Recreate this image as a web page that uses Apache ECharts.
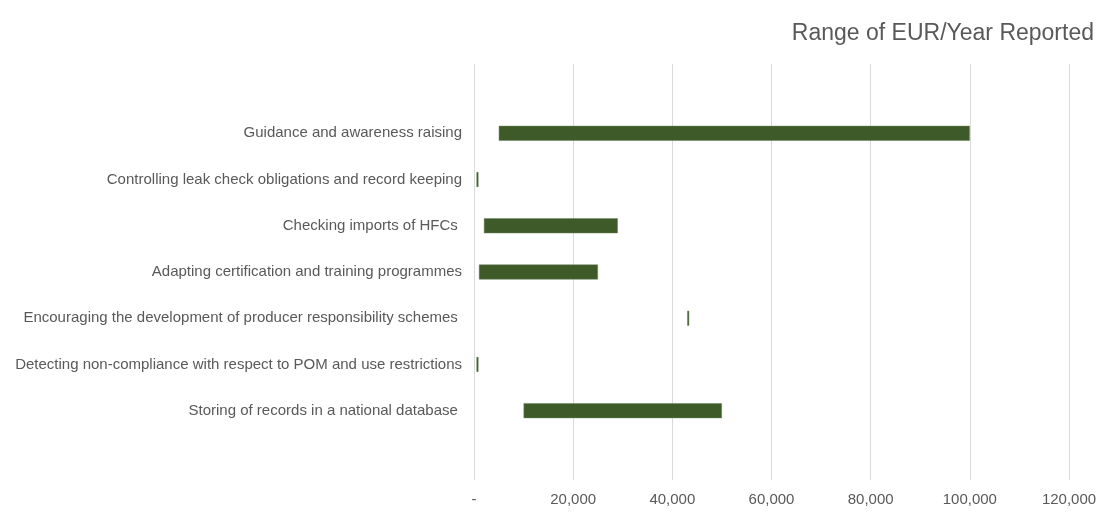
<!DOCTYPE html>
<html>
<head>
<meta charset="utf-8">
<script src="https://cdn.jsdelivr.net/npm/echarts@6/dist/echarts.min.js"></script>
<style>
  html, body { margin: 0; padding: 0; background: #fff; }
  #main { width: 1109px; height: 512px; }
</style>
</head>
<body>
<div id="main"></div>
<script>
// categories, top to bottom
var categories = [
    'Guidance and awareness raising',
    'Controlling leak check obligations and record keeping',
    'Checking imports of HFCs ',
    'Adapting certification and training programmes',
    'Encouraging the development of producer responsibility schemes ',
    'Detecting non-compliance with respect to POM and use restrictions',
    'Storing of records in a national database '
];
// lower and upper ends of the reported range (EUR/year)
var rangeLow = [5000, 500, 2000, 1000, 43000, 500, 10000];
var rangeHigh = [100000, 900, 29000, 25000, 43400, 900, 50000];

var xTicks = [0, 20000, 40000, 60000, 80000, 100000, 120000];

var myChart = echarts.init(document.getElementById('main'));

var spans = [];
for (var i = 0; i < rangeLow.length; i++) {
    spans.push(rangeHigh[i] - rangeLow[i]);
}

var option = {
    backgroundColor: '#fff',
    animation: false,
    textStyle: { fontFamily: 'Liberation Sans, Arial, sans-serif' },
    title: {
        text: 'Range of EUR/Year Reported',
        right: 10,
        top: 17,
        textStyle: {
            color: '#595959',
            fontSize: 23,
            fontWeight: 'normal',
            fontFamily: 'Liberation Sans, Arial, sans-serif'
        }
    },
    grid: {
        left: 474,
        right: 40,
        top: 64,
        bottom: 32,
        containLabel: false
    },
    xAxis: {
        type: 'value',
        min: xTicks[0],
        max: xTicks[xTicks.length - 1],
        interval: 20000,
        axisLine: { show: false },
        axisTick: { show: false },
        splitLine: { lineStyle: { color: '#d9d9d9', width: 1 } },
        axisLabel: {
            color: '#595959',
            fontSize: 15,
            margin: 12,
            formatter: function(v) {
                if (v === 0) return '-';
                return v.toString().replace(/\B(?=(\d{3})+(?!\d))/g, ',');
            }
        }
    },
    yAxis: {
        type: 'category',
        data: categories,
        inverse: true,
        min: -1,
        max: categories.length,
        axisLine: { show: false },
        axisTick: { show: false },
        splitLine: { show: false },
        axisLabel: {
            color: '#595959',
            fontSize: 15,
            margin: 12
        }
    },
    series: [{
        name: 'base',
        type: 'bar',
        stack: 'range',
        data: rangeLow,
        barWidth: 15,
        itemStyle: { color: 'transparent' },
        silent: true
    }, {
        name: 'range',
        type: 'bar',
        stack: 'range',
        data: spans,
        barWidth: 15,
        itemStyle: {
            color: '#3f5a29',
            borderColor: '#6f8560',
            borderWidth: 0.5
        }
    }]
};
myChart.setOption(option);
</script>
</body>
</html>
